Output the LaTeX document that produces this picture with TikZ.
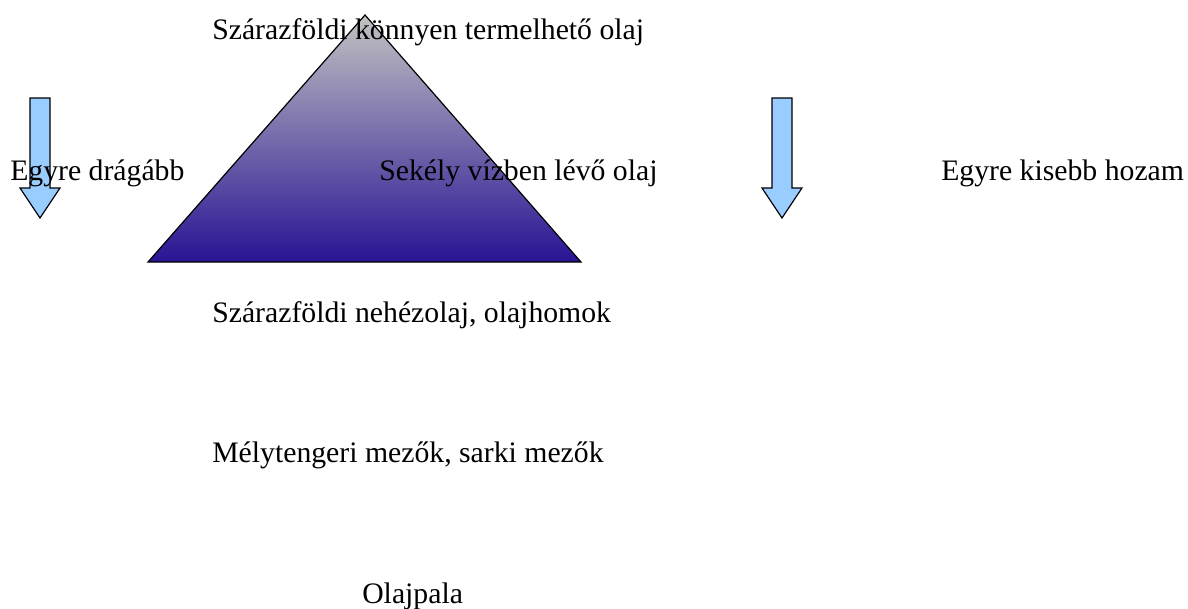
\documentclass[tikz,border=0pt]{standalone}
\usepackage{fontspec}
\setmainfont{Liberation Serif}
\usepackage{tikz}

\definecolor{pyrtop}{RGB}{194,194,194}
\definecolor{pyrbottom}{RGB}{40,20,148}
\definecolor{arrowblue}{RGB}{153,204,255}

\begin{document}
\begin{tikzpicture}[
        x=0.75pt, y=-0.75pt,
        lbl/.style={
            anchor=base west,
            inner sep=0pt,
            font=\fontsize{22.3}{26}\selectfont
        },
        downarrow/.style={
            draw=black,
            fill=arrowblue,
            line width=0.9pt
        }
    ]
        \useasboundingbox (0,0) rectangle (1188,608);

        % Pyramid with gradient
        \path[draw=black, line width=0.9pt, top color=pyrtop, bottom color=pyrbottom]
            (148,262) -- (365,15) -- (581,262) -- cycle;

        % Down arrows
        \foreach \x in {40,782} {
            \draw[downarrow] (\x-10,98) -- (\x+10,98) -- (\x+10,188) -- (\x+20,188)
                -- (\x,218) -- (\x-20,188) -- (\x-10,188) -- cycle;
        }

        % Labels
        \node[lbl] (easy)    at (212,39)  {Szárazföldi könnyen termelhető olaj};
        \node[lbl] (costly)  at (10,180)  {Egyre drágább};
        \node[lbl] (shallow) at (379,180) {Sekély vízben lévő olaj};
        \node[lbl] (yield)   at (941,180) {Egyre kisebb hozam};
        \node[lbl] (heavy)   at (212,322) {Szárazföldi nehézolaj, olajhomok};
        \node[lbl] (deep)    at (212,462) {Mélytengeri mezők, sarki mezők};
        \node[lbl] (shale)   at (362,603) {Olajpala};
    \end{tikzpicture}
\end{document}
